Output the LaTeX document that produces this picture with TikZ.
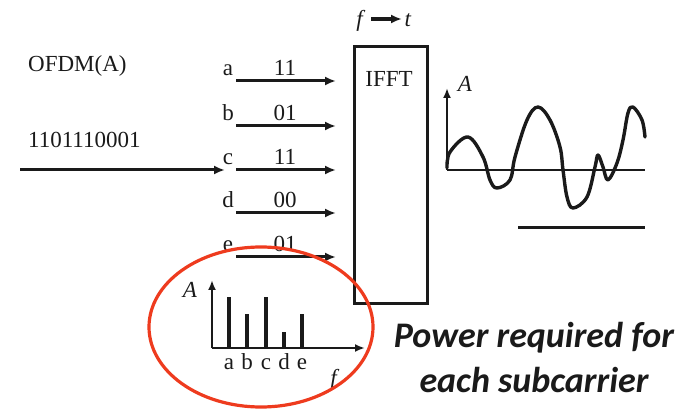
\documentclass[tikz,border=0pt]{standalone}
\usepackage{fontspec}
\setmainfont{Liberation Serif}
\newfontfamily\calloutfont{Carlito}
\usetikzlibrary{arrows.meta,positioning}
\definecolor{FigInk}{HTML}{1A1A1A}
\definecolor{FigRing}{HTML}{EE3B1E}
\tikzset{
  every node/.style={text=FigInk, font=\fontsize{23}{26}\selectfont, inner sep=0pt, anchor=base},
  wire/.style={-{Latex[length=11pt,width=9pt]}, draw=FigInk, line width=3pt},
  axis/.style={-{Latex[length=10pt,width=8pt]}, draw=FigInk, line width=2.6pt},
  bar/.style={draw=FigInk, line width=4pt},
  block/.style={draw=FigInk, line width=2.6pt},
  ring/.style={draw=FigRing, line width=3.2pt},
  signal/.style={draw=FigInk, line width=3.4pt, line join=round, line cap=round},
}

\begin{document}
\begin{tikzpicture}[x=1pt, y=-1pt]
  \useasboundingbox (0,0) rectangle (681,409);
  % serial input
  \node[anchor=base west] (title) at (28,72) {OFDM(A)};
  \node[anchor=base west] (bitstream) at (28,148) {1101110001};
  \coordinate (in) at (20,170);
  \coordinate (split) at (225,170);
  \draw[wire] (in) -- (split);
  % parallel subcarriers
  \foreach \sub/\bits/\y in {a/11/81, b/01/126, c/11/170, d/00/213, e/01/257} {
    \node (sub-\sub) at (228,\y-5) {\sub};
    \node (bits-\sub) at (285,\y-5) {\bits};
    \coordinate (tail-\sub) at (236,\y);
    \coordinate (head-\sub) at (336,\y);
    \draw[wire] (tail-\sub) -- (head-\sub);
  }
  % IFFT block
  \node[block, anchor=north west, minimum width=73pt, minimum height=257pt] (ifft) at (353,45) {};
  \node (ifftname) at (389,87) {IFFT};
  \node (fsym) at (361,27) {\textit{f}};
  \node (tsym) at (408,27) {\textit{t}};
  \coordinate (fdir) at (371,19);
  \coordinate (tdir) at (402,19);
  \draw[wire, line width=3.2pt] (fdir) -- (tdir);
  % time signal
  \coordinate (wo) at (447,170);
  \coordinate (wtop) at (447,88);
  \coordinate (wend) at (645,170);
  \draw[axis] (wo) -- (wtop);
  \node (wamp) at (465,92) {\textit{A}};
  \draw[block] (wo) -- (wend);
  \draw[signal] plot[smooth, tension=0.6] coordinates {
    (447,168) (450,152) (468,137) (483,157) (490,180) (497,188) (510,180)
    (515,157) (527,120) (538,107) (550,120) (560,147) (563,170) (567,197)
    (573,208) (587,197) (595,167) (598,155) (603,167) (608,180) (617,163)
    (623,140) (628,113) (633,107) (642,120) (645,137)};
  \coordinate (span-l) at (518,228);
  \coordinate (span-r) at (645,228);
  \draw[line width=3pt, draw=FigInk] (span-l) -- (span-r);
  % spectrum inset
  \coordinate (so) at (212,348);
  \coordinate (stop) at (212,280);
  \coordinate (sright) at (365,348);
  \draw[axis] (so) -- (stop);
  \draw[axis] (so) -- (sright);
  \node (samp) at (190,298) {\textit{A}};
  \node (sfreq) at (335,385) {\textit{f}};
  \foreach \sub/\x/\top in {a/229/297, b/247/314, c/266/297, d/284/332, e/302/314} {
    \coordinate (bar-\sub) at (\x,\top);
    \coordinate (foot-\sub) at (\x,348);
    \draw[bar] (foot-\sub) -- (bar-\sub);
    \node (tick-\sub) at (\x,369) {\sub};
  }
  \draw[ring] (261,327) ellipse [x radius=112, y radius=80];
  % callout
  \node[font=\calloutfont\bfseries\itshape\fontsize{36}{45}\selectfont, align=center, anchor=center]
    (callout) at (534,358) {Power required for\\each subcarrier};
\end{tikzpicture}
\end{document}
